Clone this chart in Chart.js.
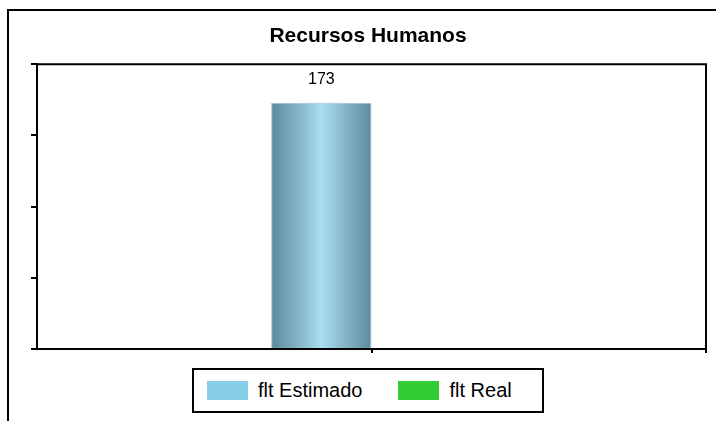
<!DOCTYPE html>
<html>
<head>
<meta charset="utf-8">
<script src="https://cdn.jsdelivr.net/npm/chart.js@4.4.0/dist/chart.umd.min.js"></script>
<style>
    body { margin: 0; background: #fff; overflow: hidden; }
    .wrap { position: relative; width: 716px; height: 421px; }
    .frame {
        position: absolute; left: 7px; top: 9px; width: 800px; height: 500px;
        border-left: 2px solid #000; border-top: 2px solid #000; pointer-events: none;
    }
    #legend {
        position: absolute; left: 192px; top: 368px; width: 352px; height: 45px;
        box-sizing: border-box; border: 2px solid #000; background: #fff;
        display: flex; align-items: center; padding-left: 13px; white-space: nowrap;
        font-family: "Liberation Sans", Arial, sans-serif; font-size: 20px; color: #000;
    }
    #legend .item { display: flex; align-items: center; margin-right: 36px; flex-shrink: 0; }
    #legend .box { width: 41px; height: 19px; margin-right: 10px; flex-shrink: 0; }
</style>
</head>
<body>
<div class="wrap">
    <canvas id="rrhh"></canvas>
    <div class="frame"></div>
    <div id="legend"></div>
</div>
<script>
let categories = [''];
let seriesNames = ['flt Estimado', 'flt Real'];
let estimadoValues = [173];
let realValues = [null];
let yTicks = [0, 50, 100, 150, 200];
let seriesColors = ['#87CEEB', '#32CD32'];

// sombreado tipo cilindro para las barras del estimado
let cylinderPlugin = {
    id: 'cylinder',
    beforeDatasetDraw: function (chart, args) {
        if (args.index !== 0) return;
        let ctx = chart.ctx;
        args.meta.data.forEach(function (bar) {
            let half = bar.width / 2;
            let g = ctx.createLinearGradient(bar.x - half, 0, bar.x + half, 0);
            g.addColorStop(0, '#5b8a9b');
            g.addColorStop(0.25, '#80b1c2');
            g.addColorStop(0.5, '#abdef1');
            g.addColorStop(0.75, '#83b4c5');
            g.addColorStop(1, '#5d8c9c');
            bar.options = Object.assign({}, bar.options, { backgroundColor: g });
        });
    }
};

let labelsPlugin = {
    id: 'valueLabels',
    afterDatasetsDraw: function (chart) {
        let ctx = chart.ctx;
        ctx.save();
        ctx.font = '16px "Liberation Sans", Arial, sans-serif';
        ctx.fillStyle = '#000';
        ctx.textAlign = 'center';
        ctx.textBaseline = 'middle';
        chart.data.datasets.forEach(function (ds, i) {
            chart.getDatasetMeta(i).data.forEach(function (bar, j) {
                if (ds.data[j] == null) return;
                ctx.fillText(String(ds.data[j]), bar.x, bar.y - 23);
            });
        });
        ctx.restore();
    }
};

let framePlugin = {
    id: 'plotFrame',
    afterDraw: function (chart) {
        let a = chart.chartArea;
        let ctx = chart.ctx;
        ctx.save();
        ctx.strokeStyle = '#000';
        ctx.lineWidth = 2;
        ctx.beginPath();
        ctx.moveTo(a.left, a.top);
        ctx.lineTo(a.right, a.top);
        ctx.lineTo(a.right, a.bottom + 4);
        ctx.stroke();
        ctx.restore();
    }
};

let rrhhData = {
    labels: categories,
    datasets: [{
        label: seriesNames[0],
        backgroundColor: seriesColors[0],
        borderColor: '#9cc3d1',
        borderWidth: 1,
        data: estimadoValues
    }, {
        label: seriesNames[1],
        backgroundColor: seriesColors[1],
        data: realValues
    }]
};

var ctxRrhh = document.getElementById('rrhh').getContext('2d');
var rrhhChart = new Chart(ctxRrhh, {
    type: 'bar',
    data: rrhhData,
    plugins: [cylinderPlugin, labelsPlugin, framePlugin],
    options: {
        responsive: true,
        maintainAspectRatio: false,
        animation: false,
        categoryPercentage: 0.3,
        barPercentage: 1,
        layout: {
            padding: { left: 30, right: 10, top: 0, bottom: 68 }
        },
        scales: {
            x: {
                grid: { offset: false, drawOnChartArea: false, tickLength: 4, color: '#000', lineWidth: 2 },
                border: { color: '#000', width: 2 },
                ticks: { display: false },
                afterFit: function (scale) { scale.height = 4; }
            },
            y: {
                min: yTicks[0],
                max: yTicks[yTicks.length - 1],
                afterBuildTicks: function (scale) {
                    scale.ticks = yTicks.map(function (v) { return { value: v }; });
                },
                grid: { drawOnChartArea: false, tickLength: 6, color: '#000', lineWidth: 2 },
                border: { color: '#000', width: 2 },
                ticks: { display: false },
                afterFit: function (scale) { scale.width = 7; }
            }
        },
        plugins: {
            legend: { display: false },
            tooltip: { enabled: false },
            title: {
                display: true,
                text: 'Recursos Humanos',
                color: '#000',
                font: { family: '"Liberation Sans", Arial, sans-serif', size: 21, weight: 'bold' },
                padding: { top: 24, bottom: 15 }
            }
        }
    }
});

// leyenda con recuadro, como en el original
let legendEl = document.getElementById('legend');
rrhhChart.data.datasets.forEach(function (ds) {
    let item = document.createElement('span');
    item.className = 'item';
    let box = document.createElement('span');
    box.className = 'box';
    box.style.background = ds.backgroundColor;
    let txt = document.createElement('span');
    txt.textContent = ds.label;
    item.appendChild(box);
    item.appendChild(txt);
    legendEl.appendChild(item);
});
</script>
</body>
</html>
